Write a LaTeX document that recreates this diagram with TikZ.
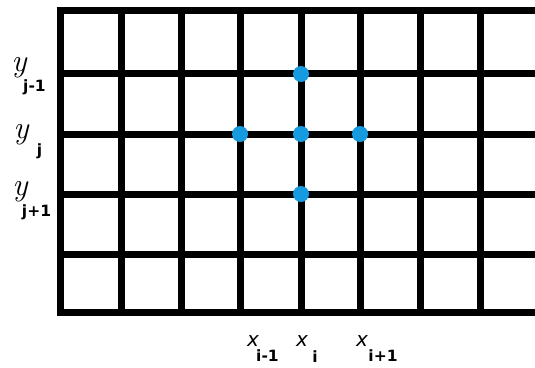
\documentclass[tikz,border=0pt]{standalone}
\usepackage{fontspec}
\newfontfamily\subfont{DejaVu Sans}
\definecolor{dotblue}{RGB}{22,155,224}
\begin{document}
\begin{tikzpicture}[x=1pt,y=-1pt,
  gridline/.style={line width=7pt,black},
  gpt/.style={circle,fill=dotblue,inner sep=0pt,minimum size=16pt},
  ylab/.style={inner sep=0pt,font=\rmfamily\itshape\fontsize{32}{32}\selectfont},
  xlab/.style={inner sep=0pt,font=\subfont\itshape\fontsize{20}{20}\selectfont},
  sublab/.style={inner sep=0pt,font=\subfont\bfseries\fontsize{15.5}{15.5}\selectfont}]
\useasboundingbox (0,0) rectangle (535,367);
\begin{scope}
\clip (0,0) rectangle (535,367);
\foreach \yy in {10.5,73,134,194,254,312}
  \draw[gridline] (56.5,\yy) -- (545,\yy);
\foreach \xx in {60,121,181,240,301,360,420,480,540}
  \draw[gridline] (\xx,7) -- (\xx,315.5);
\end{scope}
\node[gpt] (p1) at (301,74) {};
\node[gpt] (p2) at (240,134) {};
\node[gpt] (p3) at (301,134) {};
\node[gpt] (p4) at (360,134) {};
\node[gpt] (p5) at (301,194) {};
\node[ylab] (y1) at (19,68) {y};
\node[sublab] (s1) at (34.5,87) {j-1};
\node[ylab] (y2) at (21,135) {y};
\node[sublab] (s2) at (39.5,151) {j};
\node[ylab] (y3) at (20,192) {y};
\node[sublab] (s3) at (36.5,212) {j+1};
\node[xlab] (x1) at (253,341) {x};
\node[sublab] (t1) at (267.5,356) {i-1};
\node[xlab] (x2) at (302,341) {x};
\node[sublab] (t2) at (315,357) {i};
\node[xlab] (x3) at (362,341) {x};
\node[sublab] (t3) at (383,356) {i+1};
\end{tikzpicture}
\end{document}
